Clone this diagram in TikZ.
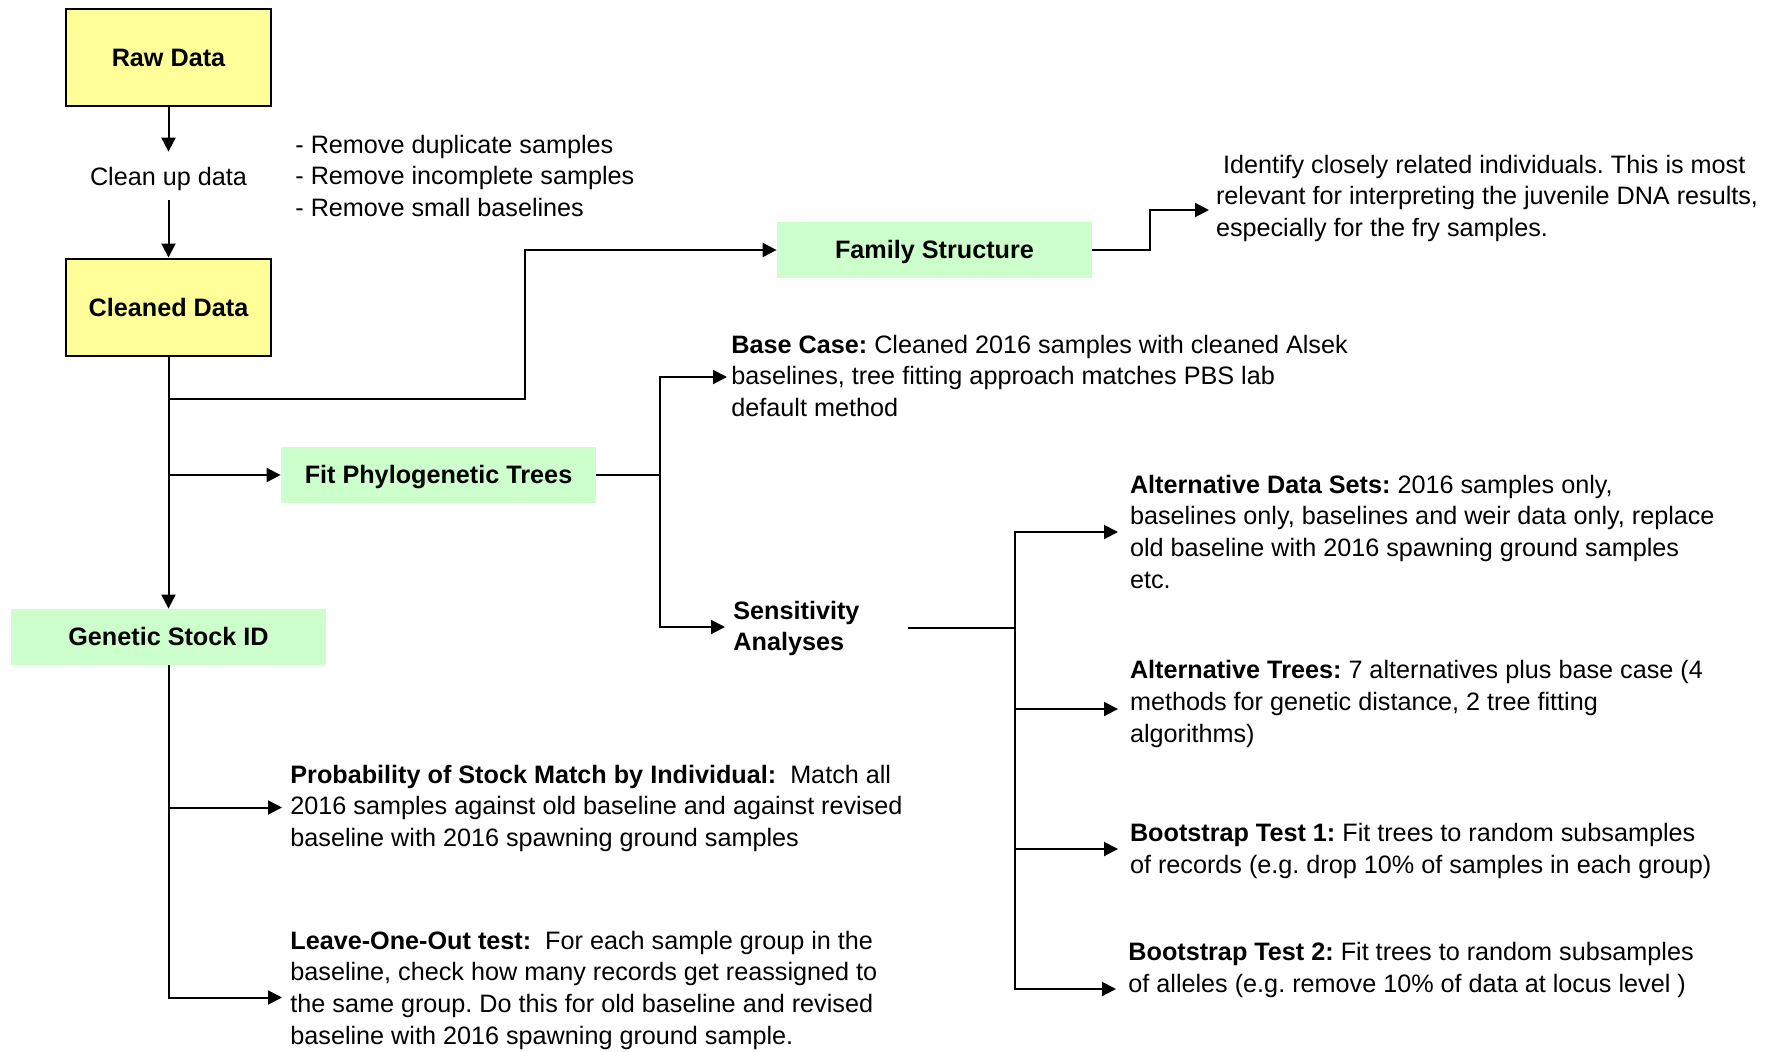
\documentclass[tikz,border=0pt]{standalone}
\usepackage{fontspec}
\setmainfont{Liberation Sans}
\usetikzlibrary{arrows.meta}
\definecolor{boxyellow}{HTML}{FFFF99}
\definecolor{boxgreen}{HTML}{CCFFCC}
\newcommand{\lns}[1]{\begin{tabular}[t]{@{}l@{}}#1\end{tabular}}
\frenchspacing
\begin{document}
\begin{tikzpicture}[x=0.5pt,y=-0.5pt,
  every node/.style={font=\fontsize{12.6}{15.9}\selectfont},
  arr/.style={-{Triangle[length=7pt,width=7pt]}, line width=1pt},
  conn/.style={line width=1pt},
  yellowbox/.style={draw=black, line width=1pt, fill=boxyellow, minimum width=102.5pt, minimum height=48.5pt, inner sep=0pt, text height=9.2pt, text depth=0.2pt, font=\fontsize{12.6}{15.9}\selectfont\bfseries},
  greenbox/.style={fill=boxgreen, minimum width=157.5pt, minimum height=28pt, inner sep=0pt, text height=9.2pt, text depth=0.4pt, font=\fontsize{12.6}{15.9}\selectfont\bfseries},
  plain/.style={inner sep=0pt, minimum height=24pt, text height=9pt, text depth=0pt},
  txt/.style={anchor=base west, inner sep=0pt}]
\useasboundingbox (0,0) rectangle (1778,1051);
\fill[white] (0,0) rectangle (1778,1051);

% boxes
\node[yellowbox] (raw) at (168.5,57.5) {Raw Data};
\node[plain] (clean) at (168.5,176) {Clean up data};
\node[yellowbox] (cleaned) at (168.5,307) {Cleaned Data};
\node[greenbox] (family) at (934.5,250) {Family Structure};
\node[greenbox] (fit) at (438.5,475) {Fit Phylogenetic Trees};
\node[greenbox] (gsid) at (168.5,637) {Genetic Stock ID};

% texts
\node[txt] (bullets) at (295,153) {\lns{- Remove duplicate samples\\- Remove incomplete samples\\- Remove small baselines}};
\node[txt] (famtxt) at (1215.6,173) {\lns{\ Identify closely related individuals. This is most\\relevant for interpreting the juvenile DNA results,\\especially for the fry samples.}};
\node[txt] (base) at (731,353) {\lns{\textbf{Base Case:} Cleaned 2016 samples with cleaned Alsek\\baselines, tree fitting approach matches PBS lab\\default method}};
\node[txt] (sens) at (733,619) {\lns{\textbf{Sensitivity}\\\textbf{Analyses}}};
\node[txt] (altd) at (1129.6,493) {\lns{\textbf{Alternative Data Sets:} 2016 samples only,\\baselines only, baselines and weir data only, replace\\old baseline with 2016 spawning ground samples\\etc.}};
\node[txt] (altt) at (1129.6,678.7) {\lns{\textbf{Alternative Trees:} 7 alternatives plus base case (4\\methods for genetic distance, 2 tree fitting\\algorithms)}};
\node[txt] (bs1) at (1129.6,841.6) {\lns{\textbf{Bootstrap Test 1:} Fit trees to random subsamples\\of records (e.g. drop 10\% of samples in each group)}};
\node[txt] (bs2) at (1128,960.5) {\lns{\textbf{Bootstrap Test 2:} Fit trees to random subsamples\\of alleles (e.g. remove 10\% of data at locus level )}};
\node[txt] (prob) at (290,783) {\lns{\textbf{Probability of Stock Match by Individual:}\ \ Match all\\2016 samples against old baseline and against revised\\baseline with 2016 spawning ground samples}};
\node[txt] (loo) at (290,949) {\lns{\textbf{Leave-One-Out test:}\ \ For each sample group in the\\baseline, check how many records get reassigned to\\the same group. Do this for old baseline and revised\\baseline with 2016 spawning ground sample.}};

% coordinates
\coordinate (famsplit) at (168.5,399);
\coordinate (fitj) at (660,475);
\coordinate (bct) at (727,377);
\coordinate (sat) at (725,627);
\coordinate (sstart) at (908,628);
\coordinate (sj) at (1015,628);
\coordinate (adt) at (1118,532);
\coordinate (att) at (1118,709);
\coordinate (b1t) at (1118,849);
\coordinate (b2t) at (1116,989);
\coordinate (fdt) at (1209,210);
\coordinate (pt) at (282,807.5);
\coordinate (lt) at (282,997.5);

% connectors
\draw[arr] (raw) -- (clean);
\draw[arr] (clean) -- (cleaned);
\draw[arr] (cleaned) -- (gsid);
\draw[arr] (famsplit) -- (524.5,399) |- (family.west);
\draw[arr] (fit.west -| cleaned.south) -- (fit.west);
\draw[conn] (fit.east) -- (fitj);
\draw[arr] (fitj) |- (bct);
\draw[arr] (fitj) |- (sat);
\draw[conn] (sstart) -- (sj);
\draw[arr] (sj) |- (adt);
\draw[arr] (sj) |- (att);
\draw[arr] (sj) |- (b1t);
\draw[arr] (sj) |- (b2t);
\draw[arr] (family.east) -- (1150,250) |- (fdt);
\draw[arr] (gsid.south) |- (pt);
\draw[arr] (gsid.south) |- (lt);
\end{tikzpicture}
\end{document}
